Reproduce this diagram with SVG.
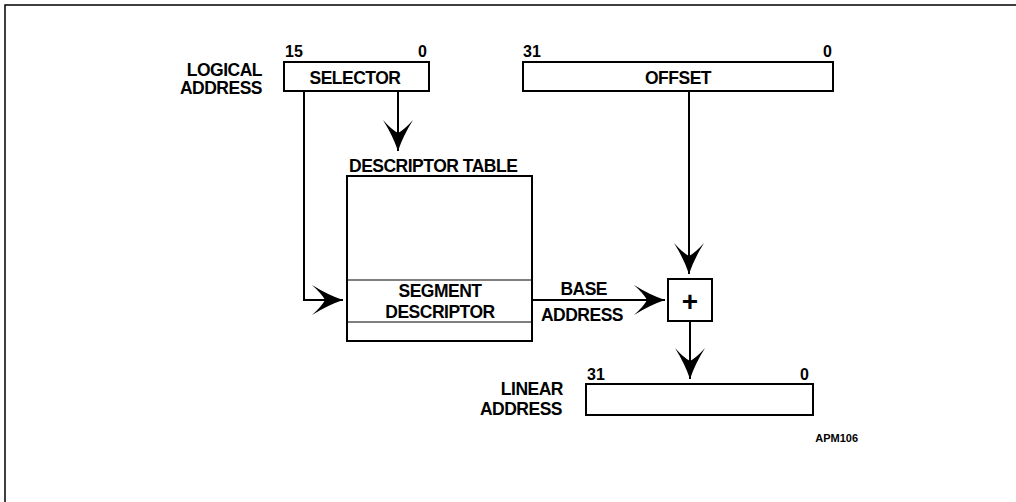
<svg xmlns="http://www.w3.org/2000/svg" width="1016" height="502" viewBox="0 0 1016 502">
<style>
.t{font-family:"Liberation Sans",Arial,sans-serif;font-weight:bold;font-size:17.5px;letter-spacing:-0.5px;fill:#000}
.n{font-family:"Liberation Sans",Arial,sans-serif;font-weight:bold;font-size:16px;fill:#000}
.box{fill:#fff;stroke:#000;stroke-width:2}
.c{fill:none;stroke:#000;stroke-width:2}
</style>
<defs>
<marker id="ah" viewBox="-34 -17 36 34" markerWidth="36" markerHeight="34" refX="0" refY="0" orient="auto" markerUnits="userSpaceOnUse">
<path d="M0,0 Q-15,-5 -31,-15 Q-21,-6 -18,0 Q-21,6 -31,15 Q-15,5 0,0 Z" fill="#000"/>
</marker>
</defs>
<rect width="1016" height="502" fill="#fff"/>
<g id="frame"><path d="M5,502 V5 H1016" fill="none" stroke="#000" stroke-width="1.5"/></g>

<g id="logical-label">
<text class="t" x="262" y="76" text-anchor="end">LOGICAL</text>
<text class="t" x="262" y="94" text-anchor="end">ADDRESS</text>
</g>

<g id="selector">
<text class="n" x="285" y="57">15</text>
<text class="n" x="427" y="57" text-anchor="end">0</text>
<rect class="box" x="284" y="62" width="145" height="29"/>
<text class="t" x="355" y="84" text-anchor="middle">SELECTOR</text>
</g>

<g id="offset">
<text class="n" x="523" y="57">31</text>
<text class="n" x="832" y="57" text-anchor="end">0</text>
<rect class="box" x="523" y="62" width="310" height="29"/>
<text class="t" x="678" y="84" text-anchor="middle">OFFSET</text>
</g>

<g id="descriptor-table">
<text class="t" x="349" y="172">DESCRIPTOR TABLE</text>
<rect class="box" x="347" y="176" width="185" height="165"/>
<line x1="347" y1="280" x2="532" y2="280" stroke="#000" stroke-width="1.2"/>
<line x1="347" y1="322" x2="532" y2="322" stroke="#000" stroke-width="1.2"/>
<text class="t" x="440" y="297" text-anchor="middle">SEGMENT</text>
<text class="t" x="440" y="318" text-anchor="middle">DESCRIPTOR</text>
</g>

<g id="adder">
<rect class="box" x="668" y="279" width="44" height="42"/>
<text x="690" y="311" text-anchor="middle" font-family="Liberation Sans,Arial,sans-serif" font-weight="bold" font-size="28">+</text>
</g>

<g id="linear">
<text class="t" x="563" y="395" text-anchor="end">LINEAR</text>
<text class="t" x="562" y="415" text-anchor="end">ADDRESS</text>
<text class="n" x="587" y="380">31</text>
<text class="n" x="809" y="380" text-anchor="end">0</text>
<rect class="box" x="586" y="384" width="227" height="31"/>
</g>

<g id="connectors">
<path class="c" d="M398,91 V151" marker-end="url(#ah)"/>
<path class="c" d="M304,91 V300 H343" marker-end="url(#ah)"/>
<path class="c" d="M532,300 H665" marker-end="url(#ah)"/>
<path class="c" d="M689,91 V274" marker-end="url(#ah)"/>
<path class="c" d="M690,321 V379" marker-end="url(#ah)"/>
</g>

<g id="base-label">
<text class="t" x="607" y="295" text-anchor="end">BASE</text>
<text class="t" x="623" y="321" text-anchor="end">ADDRESS</text>
</g>

<text x="858" y="442" text-anchor="end" font-family="Liberation Sans,Arial,sans-serif" font-weight="bold" font-size="11">APM106</text>
</svg>
